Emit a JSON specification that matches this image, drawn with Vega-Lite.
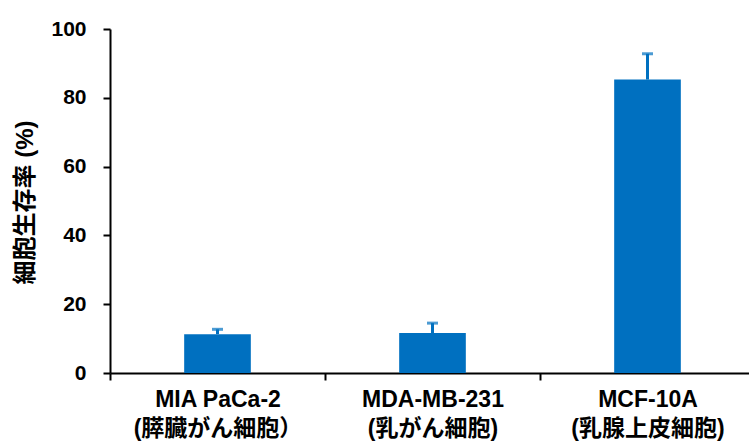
{
  "$schema": "https://vega.github.io/schema/vega-lite/v6.json",
  "autosize": "none",
  "padding": {"left": 110, "top": 29, "right": 0, "bottom": 75},
  "width": 645,
  "height": 344,
  "background": "white",
  "config": {
    "view": {"stroke": null},
    "axis": {"grid": false, "domainColor": "black", "tickColor": "black", "labelColor": "black", "titleColor": "black"}
  },
  "data": {
    "values": [
      {"cell": "MIA PaCa-2|(膵臓がん細胞）", "value": 11.3, "upper": 12.7},
      {"cell": "MDA-MB-231|(乳がん細胞)", "value": 11.6, "upper": 14.5},
      {"cell": "MCF-10A|(乳腺上皮細胞)", "value": 85.3, "upper": 92.8}
    ]
  },
  "encoding": {
    "x": {
      "field": "cell", "type": "nominal", "sort": null,
      "scale": {"paddingInner": 0, "paddingOuter": 0},
      "axis": {
        "title": null, "labelAngle": 0,
        "labelExpr": "datum.value ? split(datum.value, '|') : ''",
        "labelFont": "Liberation Sans, Noto Sans CJK JP, sans-serif",
        "labelFontSize": 23, "labelFontWeight": "bold", "labelLineHeight": 29,
        "labelPadding": 8, "tickBand": "extent", "tickSize": 7, "tickWidth": 2,
        "domainWidth": 2
      }
    }
  },
  "layer": [
    {
      "mark": {"type": "bar", "color": "#0070C0", "width": {"band": 0.31}},
      "encoding": {
        "y": {
          "field": "value", "type": "quantitative",
          "scale": {"domain": [0, 100], "nice": false},
          "axis": {
            "values": [0, 20, 40, 60, 80, 100],
            "title": "細胞生存率 (%)",
            "titleFont": "Liberation Sans, Noto Sans CJK JP, sans-serif",
            "titleFontSize": 24, "titleFontWeight": "bold",
            "titleX": -85, "titleY": 173, "titleAngle": -90,
            "titleBaseline": "middle", "titleAlign": "center",
            "labelFont": "Liberation Sans, sans-serif",
            "labelFontSize": 21, "labelFontWeight": "bold",
            "labelPadding": 17, "tickSize": 7, "tickWidth": 2, "domainWidth": 2
          }
        }
      }
    },
    {
      "mark": {"type": "rule", "color": "#0070C0", "strokeWidth": 3},
      "encoding": {"y": {"field": "value", "type": "quantitative"}, "y2": {"field": "upper"}}
    },
    {
      "mark": {"type": "tick", "color": "#0070C0", "size": 11, "thickness": 3},
      "encoding": {"y": {"field": "upper", "type": "quantitative"}}
    }
  ]
}
